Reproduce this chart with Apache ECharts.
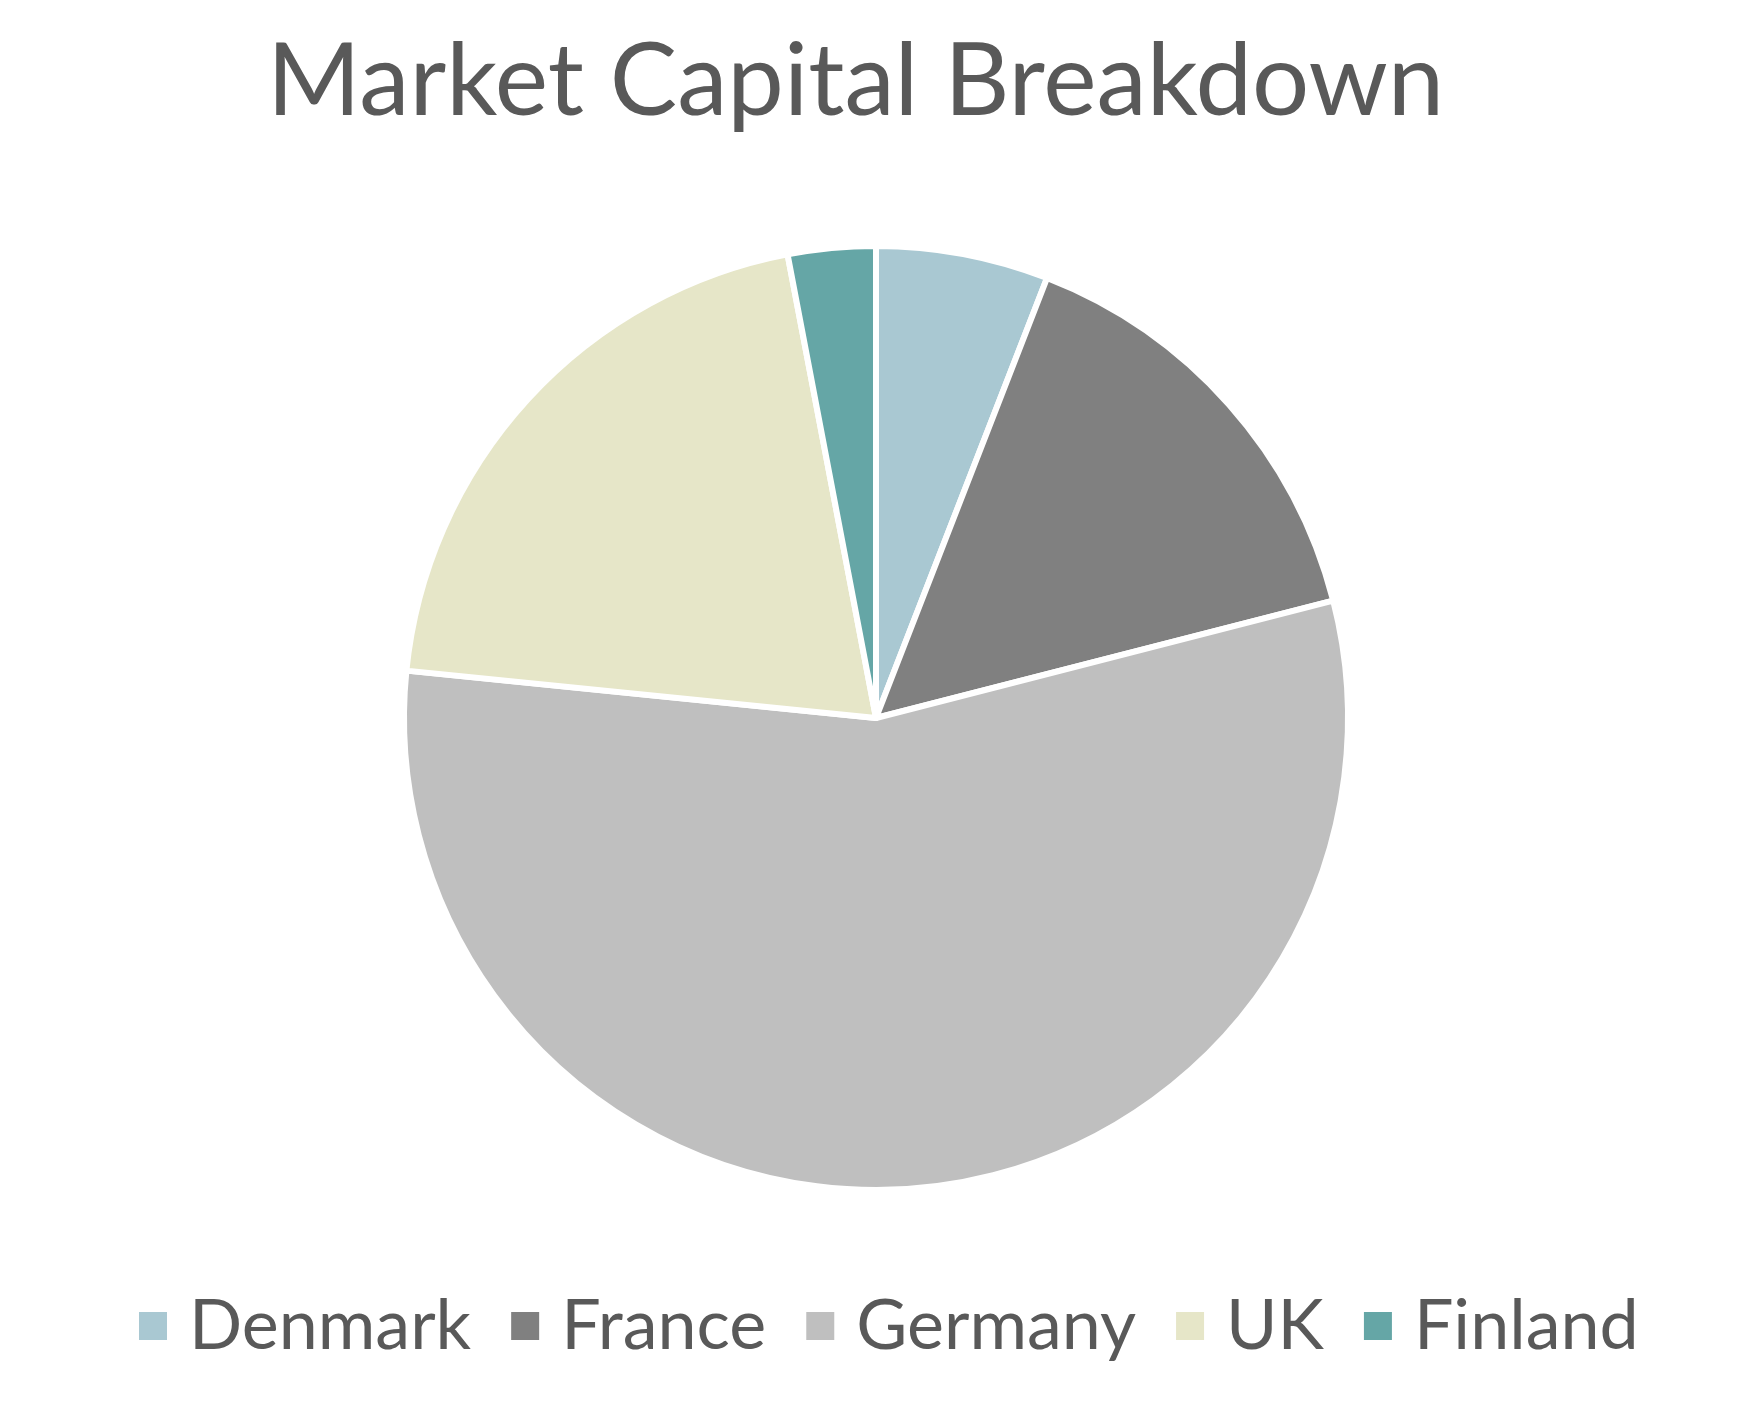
<!DOCTYPE html>
<html><head><meta charset="utf-8">
<script src="https://cdn.jsdelivr.net/npm/echarts@6/dist/echarts.min.js"></script>
<style>html,body{margin:0;padding:0;background:#fff}#c{width:1748px;height:1411px}</style>
</head><body><div id="c"></div>
<script>
const categories = ["Denmark", "France", "Germany", "UK", "Finland"];
const values = [5.9, 15.1, 55.6, 20.4, 3.0];
const colors = ["#A9C8D2", "#808080", "#BFBFBF", "#E6E6C8", "#65A6A6"];

const chart = echarts.init(document.getElementById('c'));
chart.setOption({
  animation: false,
  backgroundColor: '#ffffff',
  color: colors,
  title: {
    text: 'Market Capital Breakdown',
    left: 262,
    top: 27,
    textStyle: { fontFamily: 'Lato', fontWeight: 'normal', fontSize: 101, color: '#595959' }
  },
  legend: {
    data: categories,
    bottom: 45,
    left: 132,
    itemWidth: 30,
    itemHeight: 30,
    itemGap: 38,
    icon: 'rect',
    textStyle: { fontFamily: 'Lato', fontSize: 70, color: '#595959', padding: [0,0,0,16] }
  },
  series: [{
    type: 'pie',
    center: [876, 718],
    radius: 472,
    startAngle: 90,
    clockwise: true,
    label: { show: false },
    labelLine: { show: false },
    itemStyle: { borderColor: '#ffffff', borderWidth: 6 },
    data: categories.map((c, i) => ({ name: c, value: values[i] }))
  }]
});
</script></body></html>
